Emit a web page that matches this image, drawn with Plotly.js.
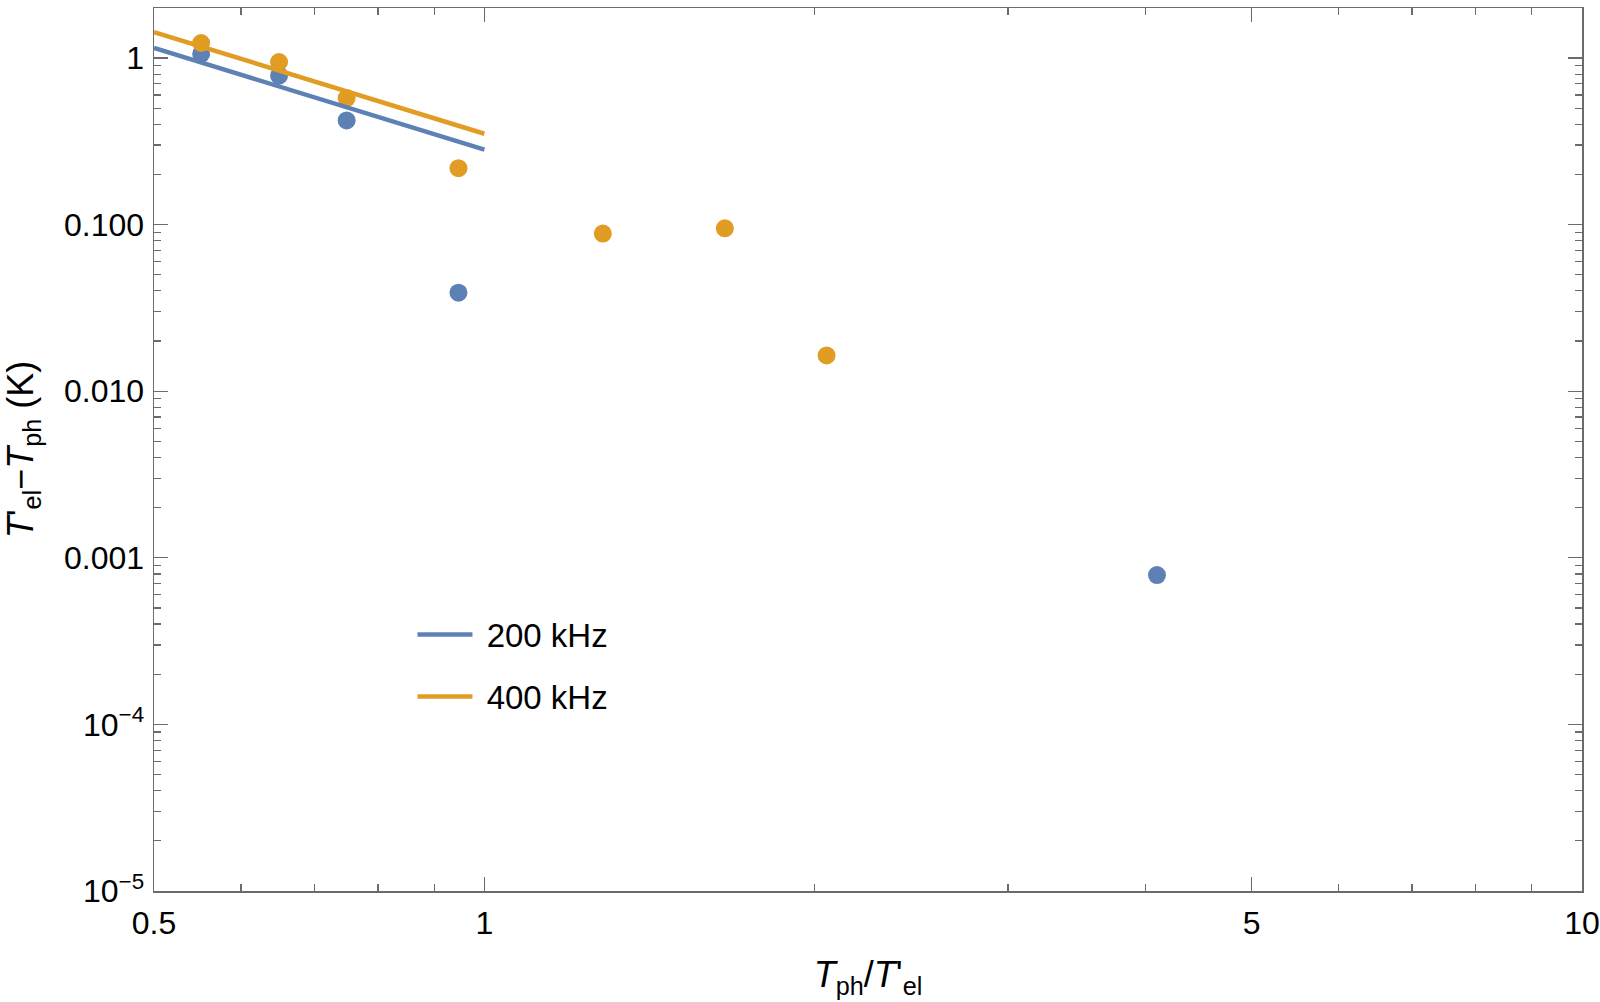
<!DOCTYPE html>
<html>
<head>
<meta charset="utf-8">
<script src="https://cdn.plot.ly/plotly-3.0.1.min.js"></script>
<style>
  html, body { margin: 0; padding: 0; background: #fff; }
  #chart { width: 1600px; height: 1002px; }
</style>
</head>
<body>
<div id="chart"></div>
<script>
const x200 = [0.552, 0.650, 0.749, 0.947, 4.10];
const y200 = [1.057, 0.783, 0.422, 0.039, 0.000787];
const x400 = [0.552, 0.650, 0.749, 0.947, 1.282, 1.656, 2.05];
const y400 = [1.23, 0.946, 0.575, 0.218, 0.0883, 0.095, 0.0164];

// fit lines (end points)
const fitX = [0.5, 1.0];
const fit200 = [1.148, 0.282];
const fit400 = [1.43, 0.351];

const seriesNames = ['200 kHz', '400 kHz'];

// tick labels
const xTickVals = [0.5, 1, 5, 10];
const xTickText = ['0.5', '1', '5', '10'];
const xMinorVals = [0.6, 0.7, 0.8, 0.9, 2, 3, 4, 6, 7, 8, 9];
const yTickVals = [1, 0.1, 0.01, 0.001, 1e-4, 1e-5];
const yTickText = ['1', '0.100', '0.010', '0.001', '10<sup>−4</sup>', '10<sup>−5</sup>'];
const yMinorVals = [];
for (let e = -5; e <= 0; e++) {
    for (let m = 2; m <= 9; m++) yMinorVals.push(m * Math.pow(10, e));
}

const blue = '#5e81b5';
const orange = '#e19c24';
const frame = '#6b6b6b';
const pad = '\u00a0';   // gap between legend line and its label

const data = [
    {
        x: x200, y: y200, type: 'scatter', mode: 'markers',
        marker: {color: blue, size: 18}, showlegend: false, hoverinfo: 'skip'
    },
    {
        x: x400, y: y400, type: 'scatter', mode: 'markers',
        marker: {color: orange, size: 18}, showlegend: false, hoverinfo: 'skip'
    },
    {
        x: fitX, y: fit200, type: 'scatter', mode: 'lines', name: pad + seriesNames[0],
        line: {color: blue, width: 4.5}, legendgroup: 'a'
    },
    {
        x: fitX, y: fit400, type: 'scatter', mode: 'lines', name: pad + seriesNames[1],
        line: {color: orange, width: 4.5}, legendgroup: 'b'
    }
];

const axisCommon = {
    type: 'log',
    showgrid: false,
    zeroline: false,
    showline: true,
    linecolor: frame,
    linewidth: 1.5,
    mirror: 'allticks',
    ticks: 'inside',
    ticklen: 14,
    tickwidth: 1.3,
    tickcolor: frame,
    tickmode: 'array',
    tickfont: {family: 'Liberation Sans, Arial, sans-serif', size: 32, color: '#000'}
};

const layout = {
    width: 1600,
    height: 1002,
    margin: {l: 154, r: 18, t: 8, b: 111},
    paper_bgcolor: '#fff',
    plot_bgcolor: '#fff',
    font: {family: 'Liberation Sans, Arial, sans-serif', size: 32, color: '#000'},
    xaxis: Object.assign({}, axisCommon, {
        range: [Math.log10(0.5), 1],
        tickvals: xTickVals,
        ticktext: xTickText,
        ticklabelstandoff: 3,
        minor: {tickmode: 'array', tickvals: xMinorVals, ticks: 'inside', ticklen: 7, tickwidth: 1.2, tickcolor: frame},
        title: {
            text: '<i>T</i><sub>ph</sub>/<i>T</i>\'<sub>el</sub>',
            font: {size: 36},
            standoff: 22
        }
    }),
    yaxis: Object.assign({}, axisCommon, {
        range: [-5, 0.3],
        tickvals: yTickVals,
        ticktext: yTickText,
        ticklabelstandoff: 2,
        minor: {tickmode: 'array', tickvals: yMinorVals, ticks: 'inside', ticklen: 7, tickwidth: 1.2, tickcolor: frame},
        title: {
            text: '<i>T</i>\'<sub>el</sub>−<i>T</i><sub>ph</sub> (K)',
            font: {size: 36},
            standoff: 20
        }
    }),
    legend: {
        x: 0.181, y: 0.322, xanchor: 'left', yanchor: 'top',
        bgcolor: 'rgba(0,0,0,0)',
        font: {size: 33},
        traceorder: 'grouped',
        tracegroupgap: 16,
        itemwidth: 55
    },
    showlegend: true
};

Plotly.newPlot('chart', data, layout, {staticPlot: true});
</script>
</body>
</html>
